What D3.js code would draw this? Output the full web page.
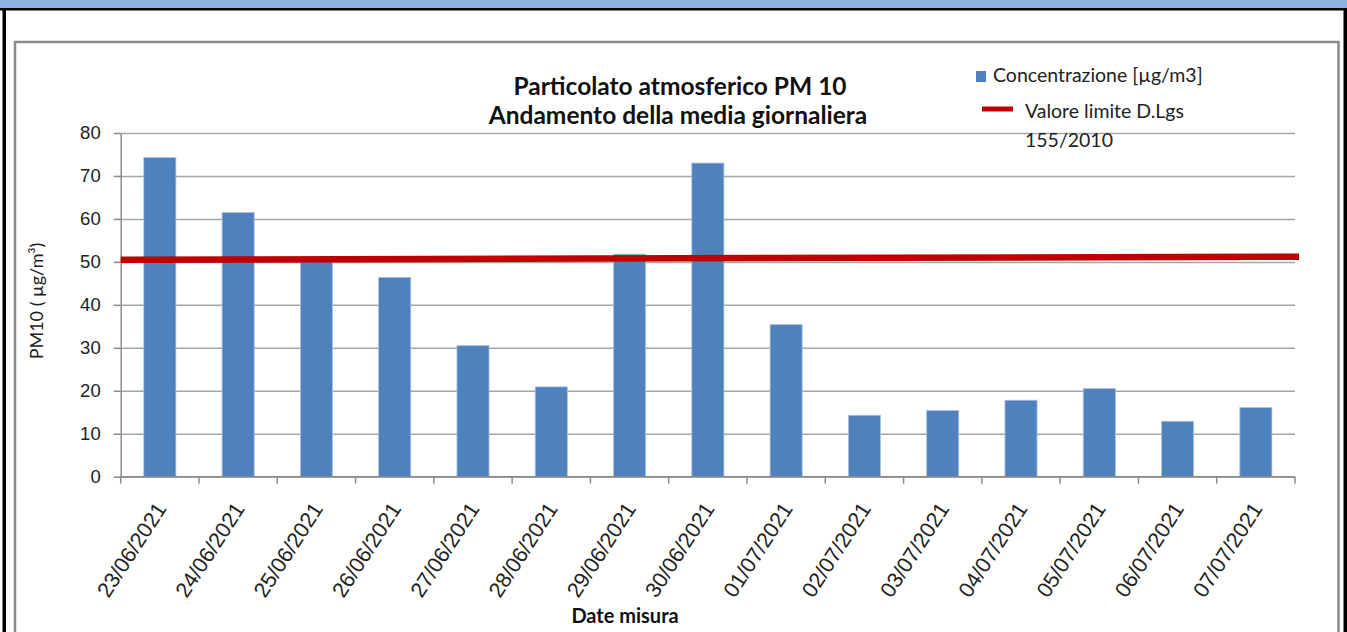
<!DOCTYPE html>
<meta charset="utf-8">
<style>
body { margin: 0; background: #fff; }
svg { display: block; font-family: Lato, "Open Sans", sans-serif; }
.grid line { stroke: #a6a6a6; stroke-width: 1.5; }
.grid path { display: none; }
.yaxis path, .yaxis line { stroke: #8c8c8c; stroke-width: 1.5; }
.yaxis text { font-size: 18.5px; fill: #222; }
.xaxis path, .xaxis line { display: none; }
.xaxis text { font-size: 21.5px; fill: #222; }
</style>
<body>
<svg width="1347" height="632"></svg>

<script src="https://cdnjs.cloudflare.com/ajax/libs/d3/7.8.5/d3.min.js"></script>
<script>

// dates of the measures
var dates = ["23/06/2021","24/06/2021","25/06/2021","26/06/2021","27/06/2021",
  "28/06/2021","29/06/2021","30/06/2021","01/07/2021","02/07/2021",
  "03/07/2021","04/07/2021","05/07/2021","06/07/2021","07/07/2021"];

// daily mean PM10 (µg/m3)
var pm10 = [74.3, 61.5, 50.3, 46.4, 30.5, 20.9, 51.8, 73.0, 35.4, 14.3, 15.4, 17.8, 20.5, 12.9, 16.1];

// limit line D.Lgs 155/2010, value at its left and right end
var limitEnds = [50.5, 51.2];

var yTicks = [0, 10, 20, 30, 40, 50, 60, 70, 80];

var svg = d3.select("svg");

var plotLeft = 120.7, plotRight = 1295, plotTop = 133, plotBottom = 476.7;

var x = d3.scaleBand()
    .domain(dates)
    .range([plotLeft, plotRight])
    .paddingInner(0.59)
    .paddingOuter(0.295);

var y = d3.scaleLinear()
    .domain([0, 80])
    .range([plotBottom, plotTop]);

// page frame bits
svg.append("rect").attr("x", 0).attr("y", 0).attr("width", 1347).attr("height", 8.5).attr("fill", "#8db3e2");
svg.append("rect").attr("x", 0).attr("y", 8).attr("width", 1347).attr("height", 2.5).attr("fill", "#000");
svg.append("rect").attr("x", 2.5).attr("y", 8).attr("width", 3.5).attr("height", 624).attr("fill", "#000");
svg.append("rect").attr("x", 1343.5).attr("y", 8).attr("width", 3.5).attr("height", 624).attr("fill", "#000");

// chart area border
svg.append("rect")
    .attr("x", 15).attr("y", 42)
    .attr("width", 1323.5).attr("height", 600)
    .attr("fill", "#fff")
    .attr("stroke", "#8a8a8a")
    .attr("stroke-width", 2.5);

// gridlines
svg.append("g")
    .attr("class", "grid")
    .attr("transform", "translate(" + plotLeft + ",0)")
    .call(d3.axisLeft(y).tickValues(yTicks).tickSize(-(plotRight - plotLeft)).tickFormat(""));

// bars
svg.append("g")
  .selectAll("rect")
  .data(pm10)
  .enter().append("rect")
    .attr("x", function(d, i) { return x(dates[i]); })
    .attr("y", function(d) { return y(d); })
    .attr("width", x.bandwidth())
    .attr("height", function(d) { return y(0) - y(d); })
    .attr("fill", "#4f81bd")
    .attr("stroke", "#a9c3e3")
    .attr("stroke-width", 0.8);

// y axis
svg.append("g")
    .attr("class", "yaxis")
    .attr("transform", "translate(" + plotLeft + ",0)")
    .call(d3.axisLeft(y).tickValues(yTicks).tickSize(7).tickPadding(13).tickSizeOuter(0));

// x axis line + ticks at category boundaries
var gap = (x.step() - x.bandwidth()) / 2;
var bounds = dates.map(function(d) { return x(d) - gap; }).concat([plotRight]);
svg.append("line")
    .attr("x1", plotLeft).attr("x2", plotRight)
    .attr("y1", y(0)).attr("y2", y(0))
    .attr("stroke", "#8c8c8c").attr("stroke-width", 1.5);
svg.append("g").selectAll("line")
  .data(bounds)
  .enter().append("line")
    .attr("x1", function(d) { return d; }).attr("x2", function(d) { return d; })
    .attr("y1", y(0)).attr("y2", y(0) + 7)
    .attr("stroke", "#8c8c8c").attr("stroke-width", 1.5);

// x labels
var xa = svg.append("g")
    .attr("class", "xaxis")
    .attr("transform", "translate(0," + y(0) + ")")
    .call(d3.axisBottom(x).tickSize(0));
xa.selectAll("text")
    .attr("text-anchor", "end")
    .attr("transform", "translate(1,28) rotate(-57)")
    .attr("x", 0).attr("y", 0)
    .attr("dy", "0.35em");

// limit line
svg.append("line")
    .attr("x1", plotLeft).attr("x2", plotRight + 4)
    .attr("y1", y(limitEnds[0])).attr("y2", y(limitEnds[1]))
    .attr("stroke", "#c00000")
    .attr("stroke-width", 6.5);

// titles
svg.append("text")
    .attr("x", 680).attr("y", 95)
    .attr("text-anchor", "middle")
    .attr("font-weight", "bold").attr("font-size", "24.5px").attr("fill", "#111")
    .text("Particolato atmosferico PM 10");
svg.append("text")
    .attr("x", 678).attr("y", 124)
    .attr("text-anchor", "middle")
    .attr("font-weight", "bold").attr("font-size", "24.5px").attr("fill", "#111")
    .text("Andamento della media giornaliera");

svg.append("text")
    .attr("x", 625).attr("y", 623)
    .attr("text-anchor", "middle")
    .attr("font-weight", "bold").attr("font-size", "20px").attr("fill", "#111")
    .text("Date misura");

svg.append("text")
    .attr("transform", "translate(43," + 301 + ") rotate(-90)")
    .attr("text-anchor", "middle")
    .attr("font-size", "18px").attr("fill", "#222")
    .text("PM10 ( µg/m³)");

// legend
var lg = svg.append("g");
lg.append("rect")
    .attr("x", 976).attr("y", 71)
    .attr("width", 10).attr("height", 11)
    .attr("fill", "#4f81bd");
lg.append("text")
    .attr("x", 993).attr("y", 82)
    .attr("font-size", "19.5px").attr("fill", "#222")
    .text("Concentrazione [µg/m3]");
lg.append("line")
    .attr("x1", 982).attr("x2", 1013)
    .attr("y1", 109).attr("y2", 109)
    .attr("stroke", "#c00000").attr("stroke-width", 5);
lg.append("text")
    .attr("x", 1025).attr("y", 118)
    .attr("font-size", "19.5px").attr("fill", "#222")
    .text("Valore limite D.Lgs");
lg.append("text")
    .attr("x", 1025).attr("y", 147)
    .attr("font-size", "19.5px").attr("fill", "#222")
    .text("155/2010");

</script>
</body>
